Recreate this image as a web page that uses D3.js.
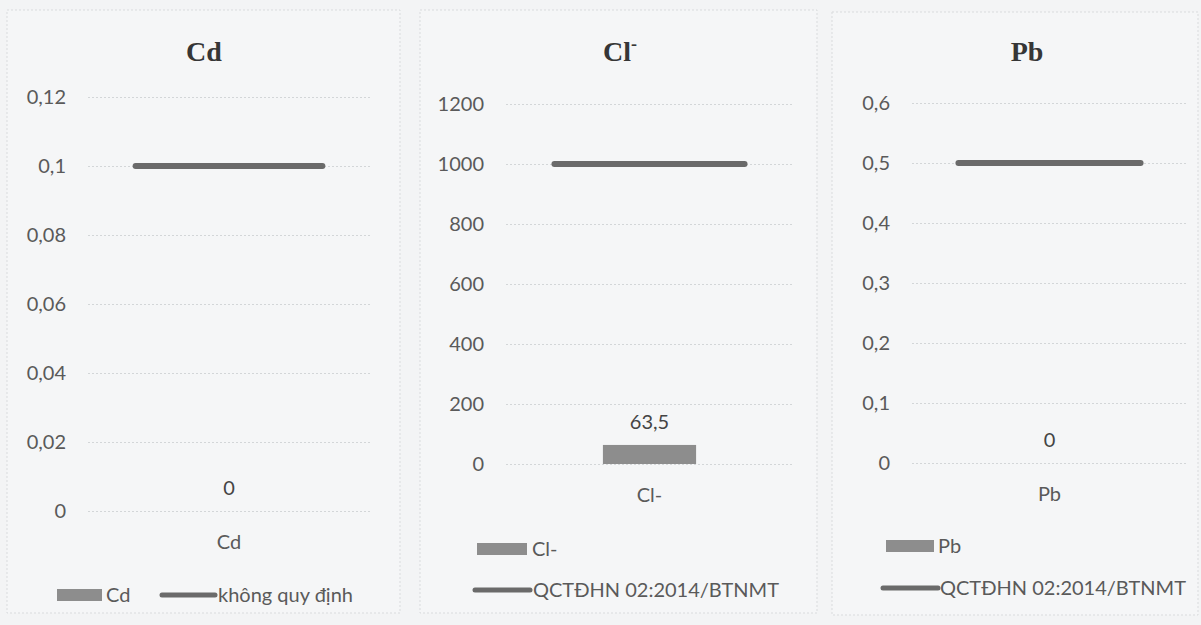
<!DOCTYPE html>
<html>
<head>
<meta charset="utf-8">
<script src="https://cdn.jsdelivr.net/npm/d3@7"></script>
<style>
  html, body { margin: 0; padding: 0; background: #f3f4f5; }
  svg { display: block; }
  .tick text { font-family: Lato, "Open Sans", sans-serif; }
</style>
</head>
<body>
<svg id="chart" width="1201" height="625"></svg>
<script>
// ---- data ----
const chartTitles = ["Cd", "Cl", "Pb"];
const titleSuperscripts = ["", "-", ""];
const categories = ["Cd", "Cl-", "Pb"];
const measuredValues = [0, 63.5, 0];
const standardValues = [0.1, 1000, 0.5];
const barSeriesNames = ["Cd", "Cl-", "Pb"];
const standardSeriesNames = ["không quy định", "QCTĐHN 02:2014/BTNMT", "QCTĐHN 02:2014/BTNMT"];
const tickValuesCd = [0, 0.02, 0.04, 0.06, 0.08, 0.1, 0.12];
const tickValuesCl = [0, 200, 400, 600, 800, 1000, 1200];
const tickValuesPb = [0, 0.1, 0.2, 0.3, 0.4, 0.5, 0.6];
const tickSets = [tickValuesCd, tickValuesCl, tickValuesPb];

// ---- layout (positions / styles) ----
const layouts = [
  { box: [7, 10, 393, 603], titleX: 204, x0: 88, x1: 370, yTop: 97, yBot: 511,
    legend: { y: 595, rectX: 57, rectW: 45, rectText: 106, lineX: 162, lineW: 53, lineText: 218, lineY: 595 } },
  { box: [420, 10, 397, 603], titleX: 620, x0: 506, x1: 793, yTop: 104, yBot: 464,
    legend: { y: 549, rectX: 477, rectW: 50, rectText: 532, lineX: 475, lineW: 55, lineText: 533, lineY: 590 } },
  { box: [832, 12, 366, 603], titleX: 1027, x0: 912, x1: 1187, yTop: 103, yBot: 463,
    legend: { y: 546, rectX: 886, rectW: 48, rectText: 938, lineX: 883, lineW: 55, lineText: 940, lineY: 588 } }
];

const textColor = "#5a5a5a";
const barColor = "#8d8d8d";
const lineColor = "#6a6a6a";
const gridColor = "#d3d6d8";
const fontSans = "Lato, 'Open Sans', sans-serif";
const fontSerif = "'Liberation Serif', 'DejaVu Serif', serif";
const fs = 20;

const locale = d3.formatLocale({ decimal: ",", thousands: "", grouping: [3], currency: ["", ""] });
const fmt = locale.format(".2~f");

const svg = d3.select("#chart");

layouts.forEach((L, i) => {
  const g = svg.append("g");

  // panel border
  g.append("rect")
    .attr("x", L.box[0]).attr("y", L.box[1])
    .attr("width", L.box[2]).attr("height", L.box[3])
    .attr("fill", "#f5f6f7")
    .attr("stroke", "#d9dbdd").attr("stroke-width", 1)
    .attr("stroke-dasharray", "2,2");

  // title
  const t = g.append("text")
    .attr("x", L.titleX).attr("y", 61)
    .attr("text-anchor", "middle")
    .attr("font-family", fontSerif).attr("font-weight", "bold")
    .attr("font-size", 28).attr("fill", "#363636")
    .text(chartTitles[i]);
  if (titleSuperscripts[i]) {
    t.append("tspan").attr("dy", -11).attr("font-size", 18).text(titleSuperscripts[i]);
  }

  const ticks = tickSets[i];
  const y = d3.scaleLinear().domain([0, d3.max(ticks)]).range([L.yBot, L.yTop]);
  const x = d3.scaleBand().domain([categories[i]]).range([L.x0, L.x1]).paddingOuter(1.04).paddingInner(0);

  // y axis with gridlines
  const axis = d3.axisLeft(y).tickValues(ticks).tickSize(-(L.x1 - L.x0)).tickPadding(22).tickFormat(fmt);
  const ag = g.append("g").attr("transform", `translate(${L.x0},0)`).call(axis);
  ag.select(".domain").remove();
  ag.selectAll(".tick line").attr("stroke", gridColor).attr("stroke-width", 1).attr("stroke-dasharray", "2,2");
  ag.selectAll(".tick text").attr("fill", textColor).attr("font-size", fs).attr("font-family", fontSans);

  // x axis category label
  const xa = d3.axisBottom(x).tickSize(0).tickPadding(24);
  const xg = g.append("g").attr("transform", `translate(0,${L.yBot})`).call(xa);
  xg.select(".domain").remove();
  xg.selectAll(".tick text").attr("fill", textColor).attr("font-size", fs).attr("font-family", fontSans);

  // bar
  const v = measuredValues[i];
  g.append("rect")
    .attr("x", x(categories[i])).attr("width", x.bandwidth())
    .attr("y", y(v)).attr("height", y(0) - y(v))
    .attr("fill", barColor);

  // data label
  g.append("text")
    .attr("x", x(categories[i]) + x.bandwidth() / 2)
    .attr("y", y(v) - 16)
    .attr("text-anchor", "middle")
    .attr("font-family", fontSans).attr("font-size", fs).attr("fill", "#444")
    .text(fmt(v));

  // standard line
  const cx = x(categories[i]) + x.bandwidth() / 2;
  const half = x.bandwidth() * 1.02;
  g.append("line")
    .attr("x1", cx - half).attr("x2", cx + half)
    .attr("y1", y(standardValues[i])).attr("y2", y(standardValues[i]))
    .attr("stroke", lineColor).attr("stroke-width", 6).attr("stroke-linecap", "round");

  // legend
  const lg = L.legend;
  g.append("rect").attr("x", lg.rectX).attr("y", lg.y - 6).attr("width", lg.rectW).attr("height", 12).attr("fill", barColor);
  g.append("text").attr("x", lg.rectText).attr("y", lg.y + 7)
    .attr("font-family", fontSans).attr("font-size", fs).attr("fill", textColor).text(barSeriesNames[i]);
  g.append("line").attr("x1", lg.lineX).attr("x2", lg.lineX + lg.lineW)
    .attr("y1", lg.lineY).attr("y2", lg.lineY)
    .attr("stroke", lineColor).attr("stroke-width", 5).attr("stroke-linecap", "round");
  g.append("text").attr("x", lg.lineText).attr("y", lg.lineY + 7)
    .attr("font-family", fontSans).attr("font-size", fs).attr("fill", textColor).text(standardSeriesNames[i]);
});
</script>
</body>
</html>
